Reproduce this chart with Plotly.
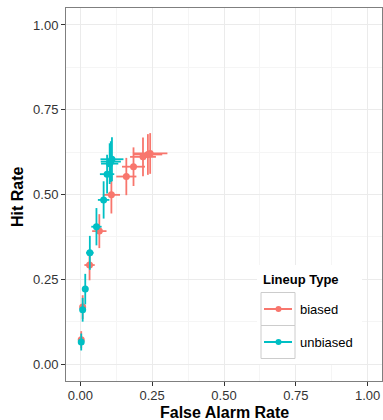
import plotly.graph_objects as go

# Data
biased_far = [0.003, 0.008, 0.032, 0.066, 0.108, 0.160, 0.185, 0.218, 0.235, 0.243]
biased_hr = [0.072, 0.168, 0.292, 0.392, 0.499, 0.553, 0.582, 0.611, 0.618, 0.621]
biased_far_err = [0.004, 0.008, 0.018, 0.025, 0.030, 0.035, 0.040, 0.045, 0.050, 0.060]
biased_hr_err = [0.025, 0.035, 0.045, 0.050, 0.055, 0.055, 0.057, 0.057, 0.060, 0.060]

unbiased_far = [0.003, 0.008, 0.017, 0.033, 0.056, 0.081, 0.093, 0.102, 0.106, 0.110]
unbiased_hr = [0.065, 0.160, 0.221, 0.328, 0.405, 0.484, 0.560, 0.591, 0.597, 0.604]
unbiased_far_err = [0.004, 0.006, 0.010, 0.013, 0.018, 0.020, 0.025, 0.030, 0.035, 0.040]
unbiased_hr_err = [0.025, 0.035, 0.045, 0.050, 0.055, 0.055, 0.057, 0.060, 0.060, 0.065]

series_names = ["biased", "unbiased"]
legend_title = "Lineup Type"
x_title = "False Alarm Rate"
y_title = "Hit Rate"

tick_vals = [0, 0.25, 0.5, 0.75, 1.0]
tick_text = ["0.00", "0.25", "0.50", "0.75", "1.00"]

RED = "#F8766D"
CYAN = "#00BFC4"
FONT = "Liberation Sans, Arial, Helvetica, sans-serif"

W, H = 383, 420
ML, MR, MT, MB = 66, 1, 8, 39
PW, PH = W - ML - MR, H - MT - MB


def px(X):
    return (X - ML) / PW


def py(Y):
    return (H - MB - Y) / PH


fig = go.Figure()
for name, xs, ys, xe, ye, col in [
    (series_names[0], biased_far, biased_hr, biased_far_err, biased_hr_err, RED),
    (series_names[1], unbiased_far, unbiased_hr, unbiased_far_err, unbiased_hr_err, CYAN),
]:
    fig.add_trace(go.Scatter(
        x=xs, y=ys, mode="markers", name=name,
        marker=dict(color=col, size=7),
        error_x=dict(type="data", array=xe, visible=True, width=0, thickness=1.8, color=col),
        error_y=dict(type="data", array=ye, visible=True, width=0, thickness=1.8, color=col),
        showlegend=False,
    ))

axis_common = dict(
    range=[-0.05, 1.05], tickvals=tick_vals, ticktext=tick_text,
    showgrid=True, gridcolor="#EBEBEB", gridwidth=1,
    minor=dict(tickvals=[0.125, 0.375, 0.625, 0.875], showgrid=True, gridcolor="#F5F5F5", gridwidth=1),
    zeroline=False, showline=True, mirror=True, linecolor="#7F7F7F", linewidth=1,
    ticks="outside", ticklen=4, tickcolor="#333333",
    tickfont=dict(family=FONT, size=13, color="#333333"),
)

shapes = []
annotations = []

# Axis titles
annotations.append(dict(xref="paper", yref="paper", x=px(224), y=py(412), xanchor="center", yanchor="middle",
                        text="<b>" + x_title + "</b>", showarrow=False,
                        font=dict(family=FONT, size=16, color="black")))
annotations.append(dict(xref="paper", yref="paper", x=px(17), y=py(197), xanchor="center", yanchor="middle",
                        text="<b>" + y_title + "</b>", showarrow=False, textangle=-90,
                        font=dict(family=FONT, size=16, color="black")))

# Manual legend (ggplot-style keys with boxes)
shapes.append(dict(type="rect", xref="paper", yref="paper", layer="above",
                   x0=px(257), x1=px(362), y0=py(265), y1=py(364),
                   fillcolor="white", line=dict(width=0)))
annotations.append(dict(xref="paper", yref="paper", x=px(261), y=py(279), xanchor="left", yanchor="middle",
                        text="<b>" + legend_title + "</b>", showarrow=False,
                        font=dict(family=FONT, size=13, color="black")))
key_tops = [292.5, 325.5]
for name, col, top in zip(series_names, [RED, CYAN], key_tops):
    cy = top + 16.5
    shapes.append(dict(type="rect", xref="paper", yref="paper", layer="above",
                       x0=px(261), x1=px(295), y0=py(top), y1=py(top + 33),
                       fillcolor="white", line=dict(color="#CCCCCC", width=1)))
    shapes.append(dict(type="line", xref="paper", yref="paper", layer="above",
                       x0=px(264), x1=px(292), y0=py(cy), y1=py(cy),
                       line=dict(color=col, width=2)))
    shapes.append(dict(type="circle", xref="paper", yref="paper", layer="above",
                       x0=px(275.5), x1=px(281.5), y0=py(cy - 3), y1=py(cy + 3),
                       fillcolor=col, line=dict(color=col, width=0)))
    annotations.append(dict(xref="paper", yref="paper", x=px(298), y=py(cy), xanchor="left", yanchor="middle",
                            text=name, showarrow=False,
                            font=dict(family=FONT, size=13, color="black")))

fig.update_layout(
    width=W, height=H,
    margin=dict(l=ML, r=MR, t=MT, b=MB),
    plot_bgcolor="white", paper_bgcolor="white",
    xaxis=dict(**axis_common, ticklabelstandoff=-2),
    yaxis=axis_common,
    shapes=shapes, annotations=annotations,
    showlegend=False,
)

fig.write_html("out.html")
